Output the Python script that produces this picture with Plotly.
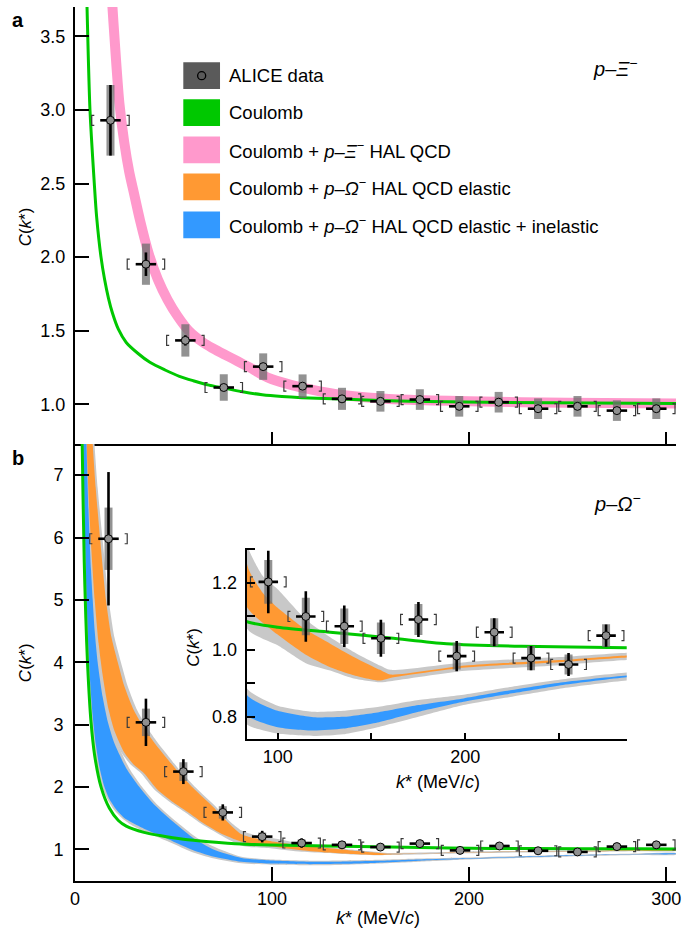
import plotly.graph_objects as go

FONT = "Liberation Sans, Arial, sans-serif"

# ---------------- data: p-Xi- (panel a) ----------------
xi_k = [18, 36, 56, 75.5, 95.5, 115.5, 135.5, 155, 175, 195, 215, 235, 255, 275, 295]
xi_c = [2.93, 1.952, 1.434, 1.114, 1.256, 1.123, 1.037, 1.02, 1.032, 0.986, 1.014, 0.97, 0.986, 0.957, 0.97]
xi_stat = [0.24, 0.08, 0.035, 0.02, 0.02, 0.02, 0.015, 0.015, 0.015, 0.015, 0.015, 0.015, 0.015, 0.015, 0.015]
xi_syst = [0.24, 0.14, 0.11, 0.09, 0.09, 0.08, 0.075, 0.07, 0.07, 0.07, 0.07, 0.07, 0.07, 0.07, 0.07]

# Coulomb curve p-Xi-
cxi_k = [4.5, 5.2, 6.1, 7.6, 9.8, 11, 13.2, 15, 17, 19, 22, 26, 32, 38, 45.7, 53, 60, 68, 75.6, 85, 95, 105, 115, 135, 170, 220, 305]
cxi_v = [5.0, 4.2, 3.70, 3.0, 2.5, 2.27, 2.0, 1.85, 1.72, 1.62, 1.51, 1.42, 1.345, 1.285, 1.233, 1.19, 1.16, 1.13, 1.11, 1.085, 1.065, 1.053, 1.045, 1.035, 1.02, 1.012, 1.005]

# Coulomb + p-Xi- HAL QCD (band centre)
hxi_k = [15, 17, 19, 20, 22.5, 25, 27.5, 30, 33, 37.5, 42, 47, 52, 57.7, 65, 70, 75.6, 80, 85, 90, 95, 100, 110, 120, 135, 150, 170, 200, 250, 305]
hxi_v = [4.8, 4.15, 3.70, 3.50, 3.05, 2.78, 2.58, 2.43, 2.25, 2.02, 1.85, 1.71, 1.60, 1.50, 1.42, 1.38, 1.34, 1.31, 1.275, 1.24, 1.20, 1.17, 1.13, 1.10, 1.065, 1.045, 1.03, 1.02, 1.01, 1.005]

# ---------------- data: p-Omega- (panel b + inset) ----------------
om_k = [17, 36, 55, 75, 95, 115, 135.5, 155, 175, 195.4, 215.4, 235, 255, 275, 295]
om_c = [5.98, 3.035, 2.245, 1.59, 1.202, 1.099, 1.07, 1.034, 1.09, 0.981, 1.052, 0.975, 0.956, 1.042, 1.07]
om_stat = [1.07, 0.38, 0.2, 0.13, 0.093, 0.075, 0.062, 0.055, 0.052, 0.045, 0.042, 0.036, 0.034, 0.033, 0.03]
om_syst = [0.5, 0.22, 0.15, 0.1, 0.065, 0.056, 0.053, 0.047, 0.046, 0.04, 0.042, 0.036, 0.03, 0.034, 0.03]

# Coulomb curve p-Omega-
com_k = [3.0, 3.6, 4.7, 5.5, 6.4, 8.1, 10, 13.2, 17.4, 22, 26, 35, 43, 55, 68, 84.5, 100, 128, 160, 190, 230, 286, 305]
com_v = [9.5, 7.6, 5.6, 4.7, 3.95, 3.05, 2.5, 2.0, 1.66, 1.46, 1.37, 1.27, 1.22, 1.16, 1.12, 1.082, 1.067, 1.052, 1.035, 1.018, 1.01, 1.006, 1.005]

# Coulomb + p-Omega- HAL QCD elastic (orange) band edges
el_up_k = [7.5, 9.0, 10.5, 12.7, 15.7, 18.5, 21.7, 25, 30, 35, 40, 45, 51.6, 60, 70, 77, 84.5, 92, 100, 115, 128, 140, 154.5, 160, 200, 250, 286, 305]
el_up_v = [8.5, 7.5, 6.8, 6.0, 5.0, 4.4, 4.0, 3.62, 3.22, 2.95, 2.72, 2.52, 2.27, 1.98, 1.68, 1.45, 1.24, 1.17, 1.125, 1.06, 1.018, 0.98, 0.94, 0.926, 0.953, 0.969, 0.983, 0.986]
el_lo_k = [5.0, 5.9, 7.0, 8.3, 10, 12, 14, 17, 20, 25, 30, 35, 42, 50, 57, 65, 73.6, 84.5, 100, 115, 128, 140, 154.5, 160, 200, 250, 286, 305]
el_lo_v = [8.5, 7.5, 6.6, 5.8, 5.0, 4.3, 3.8, 3.25, 2.9, 2.55, 2.35, 2.22, 1.95, 1.75, 1.6, 1.42, 1.26, 1.12, 1.045, 0.985, 0.948, 0.925, 0.908, 0.916, 0.947, 0.963, 0.977, 0.98]
# outer (grey) uncertainty of the elastic band
elg_up_k = [8.3, 9.9, 11.5, 13.9, 17.1, 20, 23.3, 26.7, 31.7, 36.7, 41.7, 46.7, 53, 61.5, 71.5, 78.5, 84.5, 92, 100, 115, 128, 140, 154.5, 160, 200, 250, 286, 305]
elg_up_v = [8.5, 7.5, 6.8, 6.0, 5.0, 4.4, 4.0, 3.62, 3.22, 2.95, 2.72, 2.52, 2.27, 1.98, 1.68, 1.45, 1.30, 1.22, 1.18, 1.09, 1.037, 0.995, 0.953, 0.94, 0.963, 0.978, 0.991, 0.994]
elg_lo_k = [4.3, 5.2, 6.2, 7.4, 9, 10.8, 12.6, 15.5, 18.5, 23.5, 28.5, 33.5, 40.5, 48.5, 55.5, 63.5, 72, 84.5, 100, 115, 128, 140, 154.5, 160, 200, 250, 286, 305]
elg_lo_v = [8.5, 7.5, 6.6, 5.8, 5.0, 4.3, 3.8, 3.25, 2.9, 2.55, 2.35, 2.22, 1.95, 1.75, 1.6, 1.42, 1.26, 1.057, 1.013, 0.96, 0.938, 0.915, 0.903, 0.906, 0.937, 0.954, 0.969, 0.972]

# Coulomb + p-Omega- HAL QCD elastic + inelastic (blue) band edges
in_up_k = [5.0, 5.9, 7.0, 8.1, 9.0, 10, 11.5, 14, 16.6, 20, 26, 32.6, 40, 51.3, 60, 70, 84.5, 100, 119, 135, 154, 175, 199, 225, 252, 286, 305]
in_up_v = [8.8, 7.4, 6.3, 5.5, 5.0, 4.5, 4.0, 3.45, 3.05, 2.7, 2.3, 2.0, 1.72, 1.4, 1.18, 1.0, 0.86, 0.818, 0.799, 0.80, 0.814, 0.835, 0.855, 0.88, 0.903, 0.923, 0.93]
in_lo_k = [3.6, 4.2, 5, 6, 7, 8, 9, 10.5, 12.4, 14.9, 17.5, 20.8, 25, 29.3, 35, 41, 50, 60, 70, 84.5, 100, 119, 135, 154, 175, 199, 225, 252, 286, 305]
in_lo_v = [9.4, 7.68, 6.14, 4.91, 4.1, 3.54, 3.13, 2.69, 2.32, 2.0, 1.8, 1.64, 1.5, 1.42, 1.33, 1.25, 1.12, 0.985, 0.885, 0.80, 0.769, 0.759, 0.765, 0.784, 0.815, 0.845, 0.87, 0.895, 0.918, 0.923]
ing_up_k = [5.8, 6.8, 8.0, 9.2, 10.2, 11.2, 12.8, 15.4, 18, 21.5, 27.5, 34, 41.5, 53, 62, 72, 84.5, 100, 119, 135, 154, 175, 199, 225, 252, 286, 305]
ing_up_v = [8.8, 7.4, 6.3, 5.5, 5.0, 4.5, 4.0, 3.45, 3.05, 2.7, 2.3, 2.0, 1.72, 1.4, 1.18, 1.02, 0.879, 0.833, 0.815, 0.818, 0.83, 0.85, 0.866, 0.89, 0.912, 0.932, 0.938]
ing_lo_k = [3.0, 3.6, 4.4, 5.3, 6.2, 7.1, 8.1, 9.6, 11.4, 13.7, 16.5, 19.6, 23.8, 28, 34, 40, 49, 59, 70, 84.5, 100, 119, 135, 154, 175, 199, 225, 252, 286, 305]
ing_lo_v = [9.4, 7.68, 6.14, 4.91, 4.1, 3.54, 3.13, 2.69, 2.32, 2.0, 1.8, 1.64, 1.5, 1.40, 1.30, 1.22, 1.10, 0.96, 0.855, 0.774, 0.75, 0.743, 0.748, 0.77, 0.8, 0.835, 0.86, 0.885, 0.908, 0.913]

# ---------------- styles ----------------
GREEN = "#00c800"
PINK = "#ff99cc"
ORANGE = "#ff9933"
BLUE = "#3399ff"
BAND_GREY = "#c8c8c8"
SYST_GREY = "rgba(110,110,110,0.75)"
MARK_GREY = "#8f8f8f"

X_RANGE = [0, 305]
YA_RANGE = [0.73, 3.70]
YB_RANGE = [0.49, 7.5]
XI_RANGE = [83.5, 286]
YI_RANGE = [0.733, 1.303]

K_ERR = 5.2      # horizontal stat bar half-length (MeV/c)
BR_HW = 9.5      # bracket half width
BR_SERIF = 1.3   # bracket serif length

fig = go.Figure()


def band(up_k, up_v, lo_k, lo_v, color, xa, ya):
    fig.add_trace(go.Scatter(
        x=list(up_k) + list(lo_k)[::-1], y=list(up_v) + list(lo_v)[::-1],
        mode="lines", fill="toself", fillcolor=color,
        line=dict(width=0, color=color, shape="spline", smoothing=0.6),
        xaxis=xa, yaxis=ya, hoverinfo="skip", showlegend=False))


def curve(k, v, color, width, xa, ya):
    fig.add_trace(go.Scatter(
        x=k, y=v, mode="lines",
        line=dict(color=color, width=width, shape="spline", smoothing=0.8),
        xaxis=xa, yaxis=ya, hoverinfo="skip", showlegend=False))


def data_points(k, c, stat, syst, xa, ya, hh, xr=None):
    if xr is not None:
        idx = [i for i in range(len(k)) if xr[0] <= k[i] <= xr[1]]
        k = [k[i] for i in idx]
        c = [c[i] for i in idx]
        stat = [stat[i] for i in idx]
        syst = [syst[i] for i in idx]
    # systematic boxes
    fig.add_trace(go.Scatter(
        x=k, y=c, mode="markers", marker=dict(size=1, color="rgba(0,0,0,0)"),
        error_y=dict(type="data", array=syst, color=SYST_GREY, thickness=8, width=0),
        xaxis=xa, yaxis=ya, hoverinfo="skip", showlegend=False))
    # brackets
    bx, by = [], []
    for kk, cc in zip(k, c):
        for side in (-1, 1):
            edge = kk + side * BR_HW
            inner = edge - side * BR_SERIF
            bx += [inner, edge, edge, inner, None]
            by += [cc + hh, cc + hh, cc - hh, cc - hh, None]
    fig.add_trace(go.Scatter(
        x=bx, y=by, mode="lines", line=dict(color="#3a3a3a", width=1.2),
        xaxis=xa, yaxis=ya, hoverinfo="skip", showlegend=False))
    # statistical bars + markers
    fig.add_trace(go.Scatter(
        x=k, y=c, mode="markers",
        marker=dict(size=8, color=MARK_GREY, line=dict(color="black", width=1)),
        error_y=dict(type="data", array=stat, color="black", thickness=2.6, width=0),
        error_x=dict(type="constant", value=K_ERR, color="black", thickness=2.6, width=0),
        xaxis=xa, yaxis=ya, hoverinfo="skip", showlegend=False))


# ---------------- panel a ----------------
curve(hxi_k, hxi_v, PINK, 10, "x", "y")
curve(cxi_k, cxi_v, GREEN, 3, "x", "y")
data_points(xi_k, xi_c, xi_stat, xi_syst, "x", "y", 0.034)

# ---------------- panel b ----------------
band(elg_up_k, elg_up_v, elg_lo_k, elg_lo_v, BAND_GREY, "x2", "y2")
band(ing_up_k, ing_up_v, ing_lo_k, ing_lo_v, BAND_GREY, "x2", "y2")
band(el_up_k, el_up_v, el_lo_k, el_lo_v, ORANGE, "x2", "y2")
band(in_up_k, in_up_v, in_lo_k, in_lo_v, BLUE, "x2", "y2")
curve(com_k, com_v, GREEN, 3, "x2", "y2")
data_points(om_k, om_c, om_stat, om_syst, "x2", "y2", 0.08)

# ---------------- inset ----------------
band(elg_up_k, elg_up_v, elg_lo_k, elg_lo_v, BAND_GREY, "x3", "y3")
band(ing_up_k, ing_up_v, ing_lo_k, ing_lo_v, BAND_GREY, "x3", "y3")
band(el_up_k, el_up_v, el_lo_k, el_lo_v, ORANGE, "x3", "y3")
band(in_up_k, in_up_v, in_lo_k, in_lo_v, BLUE, "x3", "y3")
curve(com_k, com_v, GREEN, 3, "x3", "y3")
data_points(om_k, om_c, om_stat, om_syst, "x3", "y3", 0.015, xr=XI_RANGE)

# ---------------- axes ----------------
ax_common = dict(showgrid=False, zeroline=False, showline=True, linecolor="black",
                 linewidth=2, ticks="inside", tickcolor="black", tickwidth=2,
                 automargin=False,
                 tickfont=dict(family=FONT, size=18, color="black"))

fig.update_layout(
    template="none",
    width=694, height=932,
    margin=dict(l=75, r=18, t=7, b=51, pad=0),
    paper_bgcolor="white", plot_bgcolor="rgba(0,0,0,0)",
    font=dict(family=FONT, size=18, color="black"),
    showlegend=False,
    xaxis=dict(domain=[0, 1], anchor="y", range=X_RANGE, tickvals=[100, 200, 300],
               showticklabels=False, ticklen=12, **ax_common),
    yaxis=dict(domain=[0.5, 1], anchor="x", range=YA_RANGE,
               tickvals=[1.0, 1.5, 2.0, 2.5, 3.0, 3.5], tickformat=".1f",
               ticklen=14, ticklabelstandoff=4, **ax_common),
    xaxis2=dict(domain=[0, 1], anchor="y2", range=X_RANGE, tickvals=[0, 100, 200, 300],
                ticklen=14, **ax_common),
    yaxis2=dict(domain=[0, 0.5], anchor="x2", range=YB_RANGE,
                tickvals=[1, 2, 3, 4, 5, 6, 7], ticklen=14, ticklabelstandoff=6, **ax_common),
    xaxis3=dict(domain=[0.2857, 0.918], anchor="y3", range=XI_RANGE,
                tickvals=[100, 200], ticklen=6,
                minor=dict(tickvals=[150, 250], ticks="inside", ticklen=6,
                           tickwidth=2, tickcolor="black", showgrid=False),
                **ax_common),
    yaxis3=dict(domain=[0.1621, 0.381], anchor="x3", range=YI_RANGE,
                tickvals=[0.8, 1.0, 1.2], tickformat=".1f",
                ticklen=8, ticklabelstandoff=4,
                minor=dict(tickvals=[0.9, 1.1, 1.3], ticks="inside", ticklen=8,
                           tickwidth=2, tickcolor="black", showgrid=False),
                **ax_common),
)

# ---------------- text ----------------
def ann(text, x, y, size=18, xanchor="center", yanchor="middle", angle=0):
    fig.add_annotation(text=text, x=x, y=y, xref="paper", yref="paper",
                       showarrow=False, xanchor=xanchor, yanchor=yanchor,
                       textangle=angle, font=dict(family=FONT, size=size, color="black"))

ann("<b>a</b>", -0.095, 0.985, size=20)
ann("<b>b</b>", -0.095, 0.484, size=20)
ann("<i>C</i>(<i>k</i>*)", -0.083, 0.748, size=17, angle=-90)
ann("<i>C</i>(<i>k</i>*)", -0.083, 0.2494, size=17, angle=-90)
ann("<i>C</i>(<i>k</i>*)", 0.196, 0.2677, size=17, angle=-90)
ann("<i>k</i>* (MeV/<i>c</i>)", 0.504, -0.0423, size=18)
ann("<i>k</i>* (MeV/<i>c</i>)", 0.604, 0.1133, size=18)
ann("<i>p</i>–<i>Ξ</i><sup>−</sup>", 0.8985, 0.931, size=20)
ann("<i>p</i>–<i>Ω</i><sup>−</sup>", 0.902, 0.4325, size=20)

# ---------------- manual legend ----------------
leg_labels = ["ALICE data", "Coulomb",
              "Coulomb + <i>p</i>–<i>Ξ</i><sup>−</sup> HAL QCD",
              "Coulomb + <i>p</i>–<i>Ω</i><sup>−</sup> HAL QCD elastic",
              "Coulomb + <i>p</i>–<i>Ω</i><sup>−</sup> HAL QCD elastic + inelastic"]
leg_colors = ["#5a5a5a", GREEN, PINK, ORANGE, BLUE]
leg_y = [0.9214, 0.8791, 0.8364, 0.7941, 0.7506]
x0, x1 = 0.1802, 0.2413
hh = 0.0153
for lab, col, yc in zip(leg_labels, leg_colors, leg_y):
    fig.add_shape(type="rect", xref="paper", yref="paper", x0=x0, x1=x1,
                  y0=yc - hh, y1=yc + hh, fillcolor=col, line=dict(width=0))
    ann(lab, 0.2529, yc, size=18.5, xanchor="left")
xc = (x0 + x1) / 2
fig.add_shape(type="circle", xref="paper", yref="paper",
              x0=xc - 0.0067, x1=xc + 0.0067, y0=leg_y[0] - 0.0046, y1=leg_y[0] + 0.0046,
              fillcolor="#5a5a5a", line=dict(color="black", width=1.3))

fig.write_html("out.html",
               config={"displayModeBar": False},
               post_script="document.body.style.margin='0px';"
                           "document.body.style.overflow='hidden';")
